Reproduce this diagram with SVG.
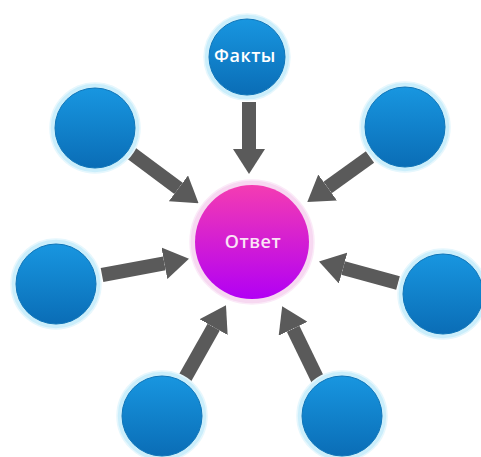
<svg xmlns="http://www.w3.org/2000/svg" width="481" height="457" viewBox="0 0 481 457">
<defs>
<linearGradient id="gBlue" x1="0" y1="0" x2="0" y2="1">
<stop offset="0" stop-color="#1896e0"/>
<stop offset="1" stop-color="#0a6db6"/>
</linearGradient>
<linearGradient id="gPink" x1="0" y1="0" x2="0" y2="1">
<stop offset="0" stop-color="#f43cb2"/>
<stop offset="1" stop-color="#b200f4"/>
</linearGradient>
<marker id="head" markerUnits="userSpaceOnUse" markerWidth="25" markerHeight="32" refX="0" refY="16" orient="auto" viewBox="0 0 25 32">
<path d="M0,0 L25,16 L0,32 z" fill="#5a5a5a"/>
</marker>
</defs>
<style>
.ring{fill:#cbeefb;stroke:#e6f7fd;stroke-width:1.5}
.blue{fill:url(#gBlue);stroke:#0f75b8;stroke-width:1}
.pring{fill:#f7d8f1;stroke:#fbeaf8;stroke-width:1.5}
.pink{fill:url(#gPink)}
.lbl{font-family:"Open Sans","Liberation Sans",sans-serif;fill:#ffffff;text-anchor:middle;font-weight:600;letter-spacing:0.5px}
.arr{stroke:#5a5a5a;stroke-width:14;fill:none;marker-end:url(#head)}
</style>
<rect width="481" height="457" fill="#ffffff"/>
<g id="connectors">
<line class="arr" x1="249" y1="102" x2="249" y2="149"/>
<line class="arr" x1="131" y1="153" x2="178.5" y2="188.3"/>
<line class="arr" x1="102" y1="275" x2="164.4" y2="263.3"/>
<line class="arr" x1="370" y1="157" x2="327.6" y2="187.5"/>
<line class="arr" x1="398" y1="283" x2="343.1" y2="268.1"/>
<line class="arr" x1="185" y1="378" x2="213.7" y2="327.1"/>
<line class="arr" x1="318" y1="380" x2="293.1" y2="328.7"/>
</g>
<g id="center">
<circle class="pring" cx="252" cy="242" r="62"/>
<circle class="pink" cx="252" cy="242" r="57"/>
<text class="lbl" x="253" y="248" font-size="18" style="fill:#fbe2f6">Ответ</text>
</g>
<g id="facts">
<circle class="ring" cx="247" cy="57" r="43"/>
<circle class="blue" cx="247" cy="57" r="38"/>
<text class="lbl" x="245" y="62" font-size="18">Факты</text>
</g>
<g id="node-upper-left">
<circle class="ring" cx="95" cy="128" r="45"/>
<circle class="blue" cx="95" cy="128" r="40"/>
</g>
<g id="node-upper-right">
<circle class="ring" cx="405" cy="127" r="45"/>
<circle class="blue" cx="405" cy="127" r="40"/>
</g>
<g id="node-left">
<circle class="ring" cx="56" cy="284" r="45"/>
<circle class="blue" cx="56" cy="284" r="40"/>
</g>
<g id="node-right">
<circle class="ring" cx="443" cy="294" r="45"/>
<circle class="blue" cx="443" cy="294" r="40"/>
</g>
<g id="node-bottom-left">
<circle class="ring" cx="162" cy="416" r="45"/>
<circle class="blue" cx="162" cy="416" r="40"/>
</g>
<g id="node-bottom-right">
<circle class="ring" cx="342" cy="416" r="45"/>
<circle class="blue" cx="342" cy="416" r="40"/>
</g>
</svg>
